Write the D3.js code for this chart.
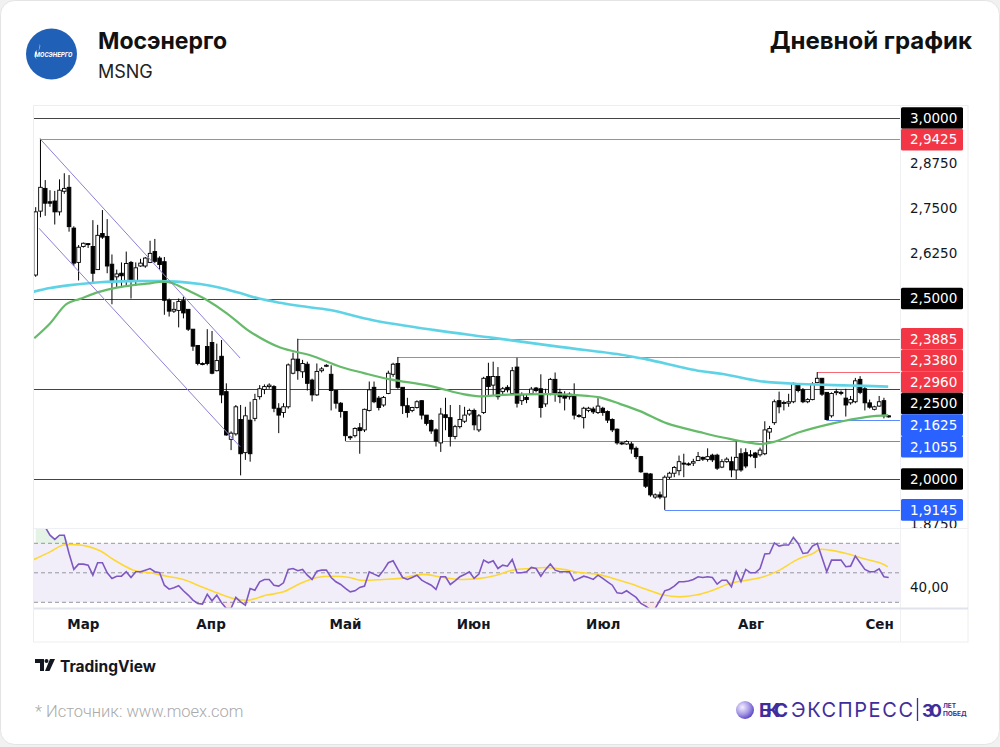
<!DOCTYPE html>
<html>
<head>
<meta charset="utf-8">
<script src="https://cdn.jsdelivr.net/npm/d3@7"></script>
<style>
    body { margin: 0; background: #f1f1f1; }
    svg { display: block; }
    .pax text, .rax text { font-family: "DejaVu Sans", sans-serif; font-size: 13.5px; fill: #131722; }
    .tax text { font-family: "DejaVu Sans", sans-serif; font-size: 13.5px; font-weight: bold; fill: #131722; }
</style>
</head>
<body>
<svg id="chart" width="1000" height="747"></svg>
<script>
// daily candles, index 0 = first bar on the chart
const opens = [2.565,2.742,2.805,2.768,2.77,2.74,2.797,2.808,2.695,2.60, 2.644,2.652,2.644,2.58,2.68,2.672,2.595,2.56,2.57,2.55,
    2.60,2.547,2.59,2.59,2.60,2.63,2.612,2.602,2.495,2.465, 2.467,2.494,2.47,2.415,2.37,2.32,2.367,2.378,2.30,2.34,
    2.242,2.11,2.125,2.165,2.073,2.163,2.168,2.228,2.248,2.256, 2.256,2.196,2.184,2.20,2.293,2.332,2.297,2.318,2.274,2.233,
    2.30,2.315,2.29,2.245,2.21,2.187,2.117,2.12,2.142,2.136, 2.19,2.254,2.224,2.205,2.237,2.29,2.32,2.254,2.203,2.19,
    2.198,2.217,2.177,2.162,2.136,2.10,2.178,2.17,2.118,2.145, 2.16,2.18,2.19,2.136,2.184,2.284,2.26,2.284,2.242,2.254,
    2.237,2.31,2.217,2.226,2.237,2.252,2.25,2.208,2.235,2.276, 2.24,2.233,2.228,2.233,2.176,2.17,2.19,2.194,2.184,2.196,
    2.187,2.165,2.138,2.10,2.097,2.097,2.085,2.062,2.016,2.014, 1.95,1.956,1.95,2.005,2.016,2.023,2.044,2.042,2.044,2.051,
    2.06,2.054,2.066,2.066,2.033,2.048,2.048,2.025,2.07,2.073, 2.067,2.072,2.067,2.07,2.13,2.156,2.217,2.21,2.21,2.214,
    2.26,2.247,2.214,2.22,2.267,2.279,2.24,2.175,2.24,2.24, 2.224,2.211,2.214,2.276,2.25,2.211,2.193,2.202,2.217,2.175];
const highs = [2.753,2.9425,2.828,2.80,2.798,2.83,2.847,2.842,2.70,2.648, 2.655,2.653,2.717,2.704,2.745,2.72,2.622,2.58,2.60,2.63,
    2.604,2.60,2.61,2.615,2.66,2.665,2.617,2.615,2.50,2.49, 2.50,2.505,2.47,2.415,2.37,2.323,2.415,2.41,2.375,2.385,
    2.265,2.132,2.205,2.205,2.20,2.214,2.236,2.26,2.262,2.265, 2.26,2.21,2.21,2.32,2.35,2.3885,2.33,2.325,2.278,2.32,
    2.31,2.318,2.315,2.245,2.213,2.187,2.12,2.143,2.155,2.195, 2.27,2.27,2.23,2.23,2.30,2.322,2.338,2.254,2.225,2.20,
    2.218,2.218,2.177,2.165,2.14,2.197,2.225,2.205,2.15,2.205, 2.20,2.195,2.195,2.18,2.283,2.322,2.325,2.31,2.255,2.26,
    2.31,2.336,2.24,2.233,2.255,2.255,2.29,2.25,2.28,2.295, 2.25,2.243,2.24,2.265,2.18,2.20,2.20,2.20,2.224,2.20,
    2.19,2.168,2.14,2.103,2.107,2.103,2.09,2.064,2.016,2.016, 1.96,1.965,2.01,2.02,2.036,2.065,2.07,2.046,2.056,2.075,
    2.062,2.085,2.07,2.07,2.055,2.06,2.062,2.106,2.085,2.085, 2.08,2.075,2.087,2.16,2.147,2.22,2.242,2.217,2.236,2.267,
    2.265,2.252,2.224,2.268,2.296,2.28,2.24,2.24,2.25,2.245, 2.25,2.23,2.28,2.285,2.255,2.22,2.203,2.23,2.225,2.177];
const lows = [2.56,2.725,2.729,2.754,2.705,2.73,2.79,2.685,2.59,2.55, 2.641,2.64,2.544,2.58,2.665,2.57,2.484,2.53,2.535,2.535,
    2.50,2.535,2.588,2.585,2.598,2.598,2.58,2.455,2.45,2.46, 2.42,2.445,2.41,2.355,2.315,2.315,2.315,2.29,2.298,2.21,
    2.12,2.08,2.12,2.01,2.053,2.048,2.16,2.22,2.235,2.25, 2.185,2.127,2.17,2.195,2.29,2.275,2.28,2.245,2.215,2.23,
    2.295,2.31,2.19,2.195,2.17,2.1055,2.108,2.115,2.07,2.13, 2.187,2.21,2.19,2.20,2.235,2.283,2.25,2.18,2.17,2.185,
    2.195,2.165,2.148,2.125,2.09,2.075,2.135,2.09,2.11,2.14, 2.155,2.175,2.135,2.13,2.18,2.228,2.23,2.22,2.235,2.24,
    2.235,2.198,2.205,2.21,2.233,2.24,2.17,2.20,2.232,2.214, 2.21,2.19,2.22,2.165,2.17,2.14,2.185,2.18,2.18,2.175,
    2.155,2.13,2.095,2.094,2.095,2.07,2.055,2.017,1.975,1.951, 1.945,1.944,1.9145,2.0,2.005,2.01,2.005,2.037,2.036,2.05,
    2.05,2.048,2.047,2.025,2.03,2.045,2.005,2.0,2.02,2.03, 2.06,2.03,2.062,2.066,2.11,2.15,2.182,2.19,2.2,2.21,
    2.24,2.21,2.21,2.218,2.265,2.23,2.1625,2.17,2.232,2.232, 2.173,2.206,2.21,2.235,2.19,2.195,2.19,2.2,2.168,2.17];
const closes = [2.74,2.808,2.764,2.764,2.74,2.80,2.805,2.699,2.598,2.642, 2.653,2.65,2.57,2.675,2.67,2.59,2.544,2.568,2.563,2.597,
    2.55,2.585,2.598,2.612,2.625,2.603,2.594,2.495,2.465,2.47, 2.492,2.46,2.415,2.368,2.32,2.318,2.32,2.293,2.328,2.233,
    2.122,2.127,2.20,2.07,2.175,2.07,2.22,2.25,2.256,2.26, 2.196,2.177,2.20,2.316,2.332,2.30,2.32,2.265,2.233,2.298,
    2.305,2.315,2.245,2.21,2.187,2.12,2.116,2.14,2.134,2.193, 2.247,2.214,2.198,2.226,2.293,2.318,2.254,2.203,2.184,2.198,
    2.214,2.177,2.154,2.133,2.105,2.18,2.17,2.118,2.145,2.165, 2.177,2.19,2.15,2.175,2.279,2.256,2.284,2.228,2.25,2.247,
    2.30,2.21,2.233,2.22,2.249,2.245,2.198,2.235,2.276,2.237, 2.228,2.224,2.235,2.177,2.174,2.196,2.196,2.186,2.202,2.184,
    2.163,2.136,2.10,2.098,2.104,2.083,2.062,2.02,1.98,1.956, 1.956,1.95,2.005,2.016,2.032,2.048,2.043,2.04,2.048,2.062,
    2.055,2.062,2.053,2.03,2.048,2.055,2.025,2.06,2.025,2.036, 2.066,2.06,2.08,2.136,2.14,2.214,2.20,2.212,2.214,2.265,
    2.245,2.214,2.22,2.263,2.279,2.235,2.165,2.237,2.242,2.238, 2.205,2.22,2.272,2.24,2.211,2.199,2.2,2.214,2.175,2.172];

// moving averages: [bar index, price]
const maSlow = [[-0.4,2.519],[3,2.529],[7.2,2.537],[13.5,2.545],[19.8,2.548],[26.1,2.548],[30.3,2.546],[34.5,2.54],
    [38.7,2.53],[42.9,2.515],[47.1,2.499],[51.3,2.488],[55.5,2.479],[61.8,2.468],[70.8,2.44],[83.4,2.413],[96,2.391],
    [110,2.366],[122.6,2.345],[128,2.332],[139.4,2.299],[144.2,2.291],[152,2.271],[160.4,2.263],[170.9,2.259],[178.9,2.256]];
const maFast = [[-0.3,2.39],[3,2.431],[6.5,2.485],[9.3,2.499],[13.5,2.519],[17,2.53],[20.4,2.537],[24,2.542],[26.7,2.547],
    [28.6,2.543],[31.7,2.524],[35.9,2.496],[40.1,2.459],[42.9,2.429],[45,2.408],[51.3,2.364],[57.6,2.343],[63.9,2.311],
    [68.7,2.294],[74.4,2.276],[82.7,2.258],[89.7,2.235],[93.2,2.229],[98.1,2.233],[108.6,2.235],[115.7,2.23],[118.4,2.226],
    [122.6,2.208],[126.8,2.188],[132.5,2.154],[139.4,2.13],[144.2,2.115],[152,2.097],[154.7,2.102],[160.4,2.13],
    [167.3,2.154],[174.5,2.172],[178.9,2.177]];

// RSI per bar and its average
const rsi = [88,86,81,75.5,72.6,75.5,75.5,63.1,52.3,55.9, 55.9,55.2,48.4,56.8,56.8,50,46.2,47.7,47.7,50.7,
    46.8,50.7,50.7,51.8,52.9,50.7,50,41.6,38.9,39.8, 41.2,37.8,34.9,31.5,29.2,28.8,35.5,31,34.9,29.7,
    25.8,26,33.3,30.3,28.1,39.4,38.2,43.9,45.5,45.5, 41.6,41,43.2,52.3,52.9,51.4,52.3,48.4,45.5,51.1,
    51.8,51.8,46.8,43.9,42.1,39.4,37.1,37.8,40.1,41, 50.7,49.1,47.7,51.8,56.8,58.1,52.3,46.8,45.5,46.8,
    48.4,45,43.2,41.6,38.7,47.3,47.3,42.1,44.6,47.3, 48.9,50.7,46.2,49.1,58.6,56.8,58.1,52.9,55.2,54.5,
    59,50,50,50.7,53.6,52.9,47.7,52.3,55.9,51.8, 50.7,50.7,50.7,44.6,46.2,47.7,46.8,45.5,48.4,46.2,
    43.9,41.6,36.4,36,37.8,35.5,33.3,29.2,27.4,25.1, 25.8,31.5,37.8,38.9,41,43.9,43.9,44.4,45.5,47.3,
    46.8,47.3,46.8,42.3,45,45,40.5,50.7,43.9,52.3, 50,50,52.9,62.7,63.1,70.3,68.1,68.8,68.8,74,
    69.9,63.1,63.6,68.1,69.9,60.4,50.7,58.6,58.6,58.6, 54.1,54.5,61.3,56.8,52.3,50.7,50.7,52.7,47.3,46.8];
const rsiAvg = [[-0.5,58.8],[3,64.2],[5.8,68.8],[9.3,68.8],[10.7,68.1],[13.5,65],[16.3,59],[20.5,51.8],[24,50],[27.5,47.7],
    [31,45.5],[34.5,40.9],[38,36.4],[41.5,32.5],[44.6,31.4],[48.5,34.9],[52,37.1],[55.5,42.7],[59,46.8],[62.5,47.7],
    [65.9,46.8],[68.1,45],[72.9,45.5],[76.4,46.2],[81.4,48.9],[85.5,46.8],[89,45.5],[93.2,46.2],[96.7,48.4],[100.2,51.8],
    [103.7,52.9],[107.2,53.6],[110.7,52.3],[114.2,50.2],[117.7,49.1],[121.2,46.2],[124.7,42.7],[128.2,38.7],[131.7,34.9],
    [135.1,33.7],[138.6,34.9],[142.1,38.2],[145.6,42.7],[149.1,44.9],[152.6,47.1],[156.1,51.8],[159.6,58.6],[163.1,63.1],
    [164.5,65.8],[166.6,65.4],[170.1,63.1],[173.6,59.7],[177.1,56.8],[178.8,54.1]];
const rsiBands = [70, 50, 30];

// levels
const roundLevels = [3.0, 2.5, 2.25, 2.0];
const resistLevels = [2.9425, 2.3885, 2.338, 2.296];
const resistFrom = [1, 55, 76, 164];
const supportLevels = [2.1625, 2.1055, 1.9145];
const supportFrom = [166, 65, 132];
const channelTop = [[0.9, 2.9425], [42.9, 2.335]];
const channelBottom = [[0.7, 2.6945], [42.9, 2.0895]];

// axes
const priceTicks = [2.875, 2.75, 2.625, 1.875];
const rsiTicks = [40];
const monthAt = [9.9, 36.7, 64.9, 91.8, 119, 150, 177];
const monthNames = ["Мар", "Апр", "Май", "Июн", "Июл", "Авг", "Сен"];

const RED = "#f23645", BLUE = "#2962ff";
const pane = { left: 34, right: 900, top: 106, mid: 528, rsiBottom: 608, bottom: 642, axisRight: 968 };

const ru = d3.formatLocale({ decimal: ",", thousands: " ", grouping: [3], currency: ["", ""] });
const fmt4 = ru.format(".4f"), fmt2 = ru.format(".2f");

const svg = d3.select("#chart");
const defs = svg.append("defs");
defs.append("clipPath").attr("id", "clipMain").append("rect")
    .attr("x", pane.left).attr("y", pane.top).attr("width", pane.right - pane.left).attr("height", pane.mid - pane.top);
defs.append("clipPath").attr("id", "clipRsi").append("rect")
    .attr("x", pane.left).attr("y", pane.mid).attr("width", pane.right - pane.left).attr("height", pane.rsiBottom - pane.mid);
defs.append("clipPath").attr("id", "clipAxis").append("rect")
    .attr("x", pane.right).attr("y", pane.top).attr("width", 70).attr("height", pane.mid - pane.top);
const grad = defs.append("radialGradient").attr("id", "bcsBall").attr("cx", "35%").attr("cy", "35%").attr("r", "70%");
grad.append("stop").attr("offset", "0%").attr("stop-color", "#f3efff");
grad.append("stop").attr("offset", "55%").attr("stop-color", "#a99be6");
grad.append("stop").attr("offset", "100%").attr("stop-color", "#5a45c4");

// card
svg.append("rect").attr("x", 0.5).attr("y", 0.5).attr("width", 999).attr("height", 744).attr("rx", 14)
    .attr("fill", "#fff").attr("stroke", "#e4e4e4");

// header
const logo = svg.append("g").attr("transform", "translate(51.5,54)");
logo.append("circle").attr("r", 25.5).attr("fill", "#2160b7");
logo.append("path").attr("d", "M-15,-4 c-3,4 -2,9 2,10 c-4,-1 -3,-6 -2,-8 z M-12,-10 c1,3 -1,5 -1,8 c0,-3 3,-5 1,-8 z")
    .attr("fill", "#fff");
logo.append("text").attr("x", 2).attr("y", 3).attr("text-anchor", "middle")
    .style("font-family", "Roboto").style("font-size", "6.5px").style("font-weight", "bold").style("font-style", "italic")
    .attr("fill", "#fff").text("МОСЭНЕРГО");

svg.append("text").attr("x", 98).attr("y", 49).text("Мосэнерго")
    .style("font-family", "Inter").style("font-size", "23px").style("font-weight", "bold").attr("fill", "#111");
svg.append("text").attr("x", 98).attr("y", 78).text("MSNG")
    .style("font-family", "Inter").style("font-size", "18px").attr("fill", "#222");
svg.append("text").attr("x", 972).attr("y", 49).attr("text-anchor", "end").text("Дневной график")
    .style("font-family", "Inter").style("font-size", "24px").style("font-weight", "bold").attr("fill", "#111");

// chart frame
svg.append("rect").attr("x", 33.5).attr("y", 105.5).attr("width", pane.axisRight - 33.5).attr("height", pane.bottom - 105.5)
    .attr("fill", "#fff").attr("stroke", "#eeeeee");

const x = d3.scaleLinear().domain([0, 179]).range([35.7, 888.7]);
const y = d3.scaleLinear().domain([2, 3]).range([479, 118]);
const yr = d3.scaleLinear().domain([30, 70]).range([602.3, 543.3]);

// rsi pane background
const rsiG = svg.append("g").attr("clip-path", "url(#clipRsi)");
rsiG.append("rect").attr("x", pane.left).attr("width", pane.right - pane.left)
    .attr("y", yr(70)).attr("height", yr(30) - yr(70)).attr("fill", "#7e57c2").attr("fill-opacity", 0.1);
rsiG.selectAll(".band").data(rsiBands).enter().append("line")
    .attr("x1", pane.left).attr("x2", pane.right).attr("y1", d => yr(d)).attr("y2", d => yr(d))
    .attr("stroke", "#9598a1").attr("stroke-dasharray", "4,3").attr("stroke-width", 1);
rsiG.append("path").datum(rsi)
    .attr("d", d3.area().x((d, i) => x(i)).y0(yr(70)).y1(d => yr(Math.max(d, 70))))
    .attr("fill", "#4caf50").attr("fill-opacity", 0.15);
rsiG.append("path").datum(rsi)
    .attr("d", d3.area().x((d, i) => x(i)).y0(yr(30)).y1(d => yr(Math.min(d, 30))))
    .attr("fill", "#f23645").attr("fill-opacity", 0.12);
rsiG.append("path").datum(rsiAvg)
    .attr("d", d3.line().x(d => x(d[0])).y(d => yr(d[1])).curve(d3.curveCatmullRom))
    .attr("fill", "none").attr("stroke", "#fdd835").attr("stroke-width", 1.6);
rsiG.append("path").datum(rsi)
    .attr("d", d3.line().x((d, i) => x(i)).y(d => yr(d)))
    .attr("fill", "none").attr("stroke", "#7e57c2").attr("stroke-width", 1.6);

// main pane
const mainG = svg.append("g").attr("clip-path", "url(#clipMain)");
mainG.selectAll(".round").data(roundLevels).enter().append("line")
    .attr("x1", pane.left).attr("x2", pane.right).attr("y1", d => Math.round(y(d)) + 0.5).attr("y2", d => Math.round(y(d)) + 0.5)
    .attr("stroke", "#444").attr("stroke-width", 1.2);
mainG.selectAll(".res").data(resistLevels).enter().append("line")
    .attr("x1", (d, i) => x(resistFrom[i])).attr("x2", pane.right)
    .attr("y1", d => Math.round(y(d)) + 0.5).attr("y2", d => Math.round(y(d)) + 0.5)
    .attr("stroke", RED).attr("stroke-opacity", 0.75).attr("stroke-width", 1.2);
mainG.selectAll(".sup").data(supportLevels).enter().append("line")
    .attr("x1", (d, i) => x(supportFrom[i])).attr("x2", pane.right)
    .attr("y1", d => Math.round(y(d)) + 0.5).attr("y2", d => Math.round(y(d)) + 0.5)
    .attr("stroke", BLUE).attr("stroke-opacity", 0.75).attr("stroke-width", 1.2);

// candles
const bars = mainG.selectAll(".bar").data(d3.range(opens.length)).enter().append("g");
bars.append("line")
    .attr("x1", i => x(i)).attr("x2", i => x(i))
    .attr("y1", i => y(highs[i])).attr("y2", i => y(lows[i]))
    .attr("stroke", "#000").attr("stroke-width", 1);
bars.append("rect")
    .attr("x", i => x(i) - 1.8).attr("width", 3.6)
    .attr("y", i => y(Math.max(opens[i], closes[i])))
    .attr("height", i => Math.max(1, Math.abs(y(opens[i]) - y(closes[i]))))
    .attr("fill", i => closes[i] >= opens[i] ? "#fff" : "#000")
    .attr("stroke", "#000").attr("stroke-width", 0.9);

const maLine = d3.line().x(d => x(d[0])).y(d => y(d[1])).curve(d3.curveCatmullRom);
mainG.append("path").datum(maSlow).attr("d", maLine)
    .attr("fill", "none").attr("stroke", "#5fd3e6").attr("stroke-width", 2.6);
mainG.append("path").datum(maFast).attr("d", maLine)
    .attr("fill", "none").attr("stroke", "#66bb6a").attr("stroke-width", 2.2);

const chLine = d3.line().x(d => x(d[0])).y(d => y(d[1]));
[channelTop, channelBottom].forEach(c => {
    mainG.append("path").datum(c).attr("d", chLine)
        .attr("fill", "none").attr("stroke", "#8f7fd6").attr("stroke-width", 1);
});

// separators
svg.append("line").attr("x1", pane.right + 0.5).attr("x2", pane.right + 0.5).attr("y1", 106).attr("y2", pane.bottom)
    .attr("stroke", "#eef0f4");
svg.append("line").attr("x1", pane.left).attr("x2", pane.axisRight).attr("y1", pane.mid + 0.5).attr("y2", pane.mid + 0.5)
    .attr("stroke", "#eef0f4");
svg.append("line").attr("x1", pane.left).attr("x2", pane.axisRight).attr("y1", pane.rsiBottom + 0.5).attr("y2", pane.rsiBottom + 0.5)
    .attr("stroke", "#e0e3eb").attr("stroke-width", 2);

// price axis (clip on an untransformed wrapper so the rect is in page space)
const pax = svg.append("g").attr("clip-path", "url(#clipAxis)")
    .append("g").attr("class", "pax")
    .attr("transform", `translate(${pane.right},0)`)
    .call(d3.axisRight(y).tickValues(priceTicks).tickSize(0).tickPadding(10).tickFormat(fmt4));
pax.select(".domain").remove();

svg.append("g").attr("class", "rax")
    .attr("transform", `translate(${pane.right},0)`)
    .call(d3.axisRight(yr).tickValues(rsiTicks).tickSize(0).tickPadding(10).tickFormat(fmt2))
    .select(".domain").remove();

// level price tags, pushed down when they collide
const tags = roundLevels.map(v => ({ v, c: "#000" }))
    .concat(resistLevels.map(v => ({ v, c: RED })))
    .concat(supportLevels.map(v => ({ v, c: BLUE })))
    .sort((a, b) => b.v - a.v);
const tagH = 21.6;
let prev = -Infinity;
tags.forEach(t => {
    t.cy = Math.max(y(t.v), prev + tagH);
    prev = t.cy;
});
const tg = svg.selectAll(".tag").data(tags).enter().append("g");
tg.append("rect").attr("x", 901).attr("width", 62).attr("y", d => d.cy - tagH / 2).attr("height", tagH)
    .attr("rx", 1.5).attr("fill", d => d.c);
tg.append("text").attr("x", 910).attr("y", d => d.cy).attr("dy", "0.36em").text(d => fmt4(d.v))
    .style("font-family", "DejaVu Sans").style("font-size", "13.5px").attr("fill", "#fff");

// time axis
const tax = svg.append("g").attr("class", "tax").attr("transform", `translate(0,${pane.rsiBottom})`)
    .call(d3.axisBottom(x).tickValues(monthAt).tickSize(0).tickPadding(11).tickFormat((d, i) => monthNames[i]));
tax.select(".domain").remove();

// footer
const tv = svg.append("g").attr("transform", "translate(35,659)");
tv.append("path").attr("d", "M0,0 h9 v12 h-4 v-8 h-5 z").attr("fill", "#131722");
tv.append("circle").attr("cx", 11.5).attr("cy", 2).attr("r", 2).attr("fill", "#131722");
tv.append("path").attr("d", "M15,0 h5 l-5.5,12 h-4.5 z").attr("fill", "#131722");
svg.append("text").attr("x", 60).attr("y", 672).text("TradingView")
    .style("font-family", "Inter").style("font-size", "15.5px").style("font-weight", "bold").attr("fill", "#131722");

svg.append("text").attr("x", 35).attr("y", 717).text("*  Источник: www.moex.com")
    .style("font-family", "Roboto").style("font-size", "16.5px").style("font-weight", 300).attr("fill", "#aaaaaa");

const bcs = svg.append("g");
bcs.append("circle").attr("cx", 745).attr("cy", 710).attr("r", 9).attr("fill", "url(#bcsBall)");
bcs.append("text").attr("x", 759).attr("y", 717).attr("textLength", 29).text("БКС")
    .style("font-family", "Inter").style("font-size", "19px").style("font-weight", "bold").attr("fill", "#3f2d9b");
bcs.append("text").attr("x", 791).attr("y", 717).attr("textLength", 122).text("ЭКСПРЕСС")
    .style("font-family", "Inter").style("font-size", "20px").attr("fill", "#3f2d9b");
bcs.append("line").attr("x1", 917.5).attr("x2", 917.5).attr("y1", 698).attr("y2", 721).attr("stroke", "#3f2d9b").attr("stroke-width", 1.3);
bcs.append("text").attr("x", 922).attr("y", 717).attr("textLength", 20).text("30")
    .style("font-family", "Inter").style("font-size", "18px").style("font-weight", "bold").attr("fill", "#3f2d9b");
bcs.append("text").attr("x", 943).attr("y", 708).text("ЛЕТ")
    .style("font-family", "Inter").style("font-size", "6.5px").style("font-weight", "bold").attr("fill", "#3f2d9b");
bcs.append("text").attr("x", 943).attr("y", 716).text("ПОБЕД")
    .style("font-family", "Inter").style("font-size", "6.5px").style("font-weight", "bold").attr("fill", "#3f2d9b");
</script>
</body>
</html>
